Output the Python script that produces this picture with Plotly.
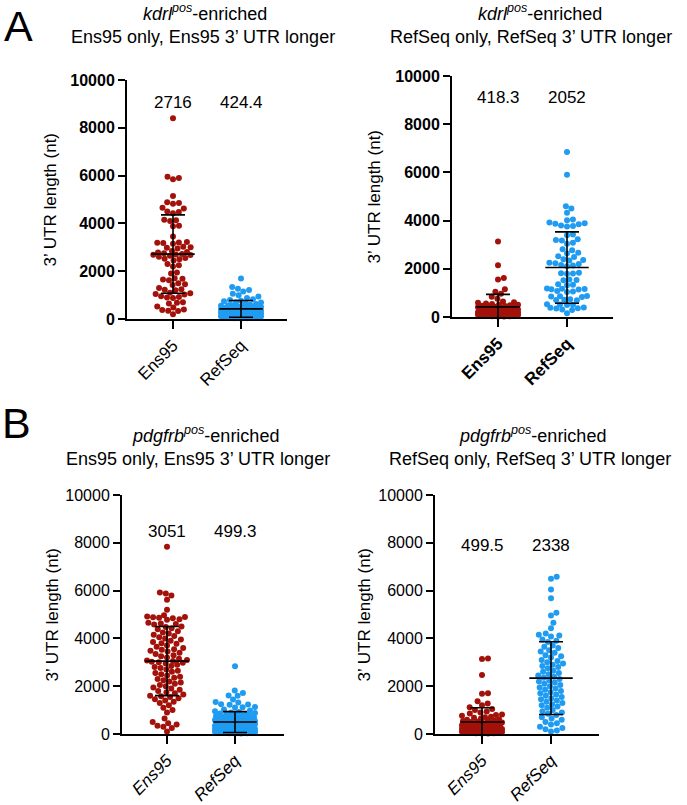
import math
import plotly.graph_objects as go

W, H = 687, 805
RED = "#a3120a"
BLUE = "#1f9cf2"
FONT = "Arial, Liberation Sans, sans-serif"

CATEGORIES = ["Ens95", "RefSeq"]
YTICKS = [0, 2000, 4000, 6000, 8000, 10000]

# ---- values (3' UTR length, nt) ----
# A, left: kdrl+ enriched, Ens95 only / Ens95 longer
ens_a1 = [8400, 5950, 5900, 5850, 5150, 4880, 4850, 4820, 4650, 4620, 4500, 4480,
          4420, 4150, 4130, 4100, 3900, 3880, 3450, 3220, 3200, 3190, 3180, 3150,
          3020, 3000, 2980, 2950, 2850, 2800, 2780, 2750, 2720, 2700, 2690, 2680,
          2650, 2600, 2550, 2520, 2500, 2450, 2300, 2250, 2200, 1950, 1900, 1700,
          1680, 1650, 1620, 1500, 1450, 1420, 1300, 1250, 1220, 1200, 1100, 1080,
          1050, 1020, 950, 920, 900, 880, 700, 680, 650, 520, 480, 400, 380, 350,
          330, 200]
ref_a1 = [1690, 1340, 1270, 1210, 1150, 1060, 990, 940, 880, 830, 800, 760, 740,
          700, 690, 650, 630, 610, 580, 570, 550, 540, 520, 500, 490, 480, 470,
          455, 450, 430, 420, 410, 400, 395, 380, 370, 360, 350, 345, 330, 320,
          310, 300, 295, 280, 270, 265, 250, 240, 235, 220, 210, 205, 190, 180,
          175, 160, 150, 145, 130, 120, 115, 100, 95, 90, 80, 75, 65, 60, 55, 50,
          45, 40, 35, 30, 25]
# A, right: kdrl+ enriched, RefSeq only / RefSeq longer
ens_a2 = [3130, 2150, 1620, 1560, 1150, 1050, 960, 840, 760, 640, 610, 590, 565,
          540, 520, 505, 490, 470, 460, 450, 430, 420, 405, 390, 380, 370, 360,
          350, 340, 330, 320, 310, 300, 290, 280, 270, 260, 250, 240, 230, 220,
          210, 200, 195, 190, 180, 170, 165, 160, 150, 140, 135, 130, 120, 110,
          105, 100, 95, 90, 85, 80, 75, 70, 65, 60, 55, 50, 45, 40, 35, 30, 25, 20]
ref_a2 = [6850, 5900, 4600, 4500, 4330, 4050, 4010, 3920, 3890, 3870, 3850, 3800,
          3780, 3760, 3420, 3390, 3230, 3200, 3170, 3080, 3040, 2810, 2770, 2670,
          2640, 2520, 2490, 2400, 2370, 2340, 2250, 2230, 2200, 2160, 2140, 2110,
          1840, 1820, 1810, 1790, 1560, 1540, 1520, 1360, 1340, 1320, 1180, 1170,
          1160, 1150, 1140, 1080, 1060, 1040, 870, 860, 850, 830, 740, 720, 710,
          700, 530, 520, 510, 500, 390, 380, 360, 350, 310, 290, 160]
# B, left: pdgfrb+ enriched, Ens95 only / Ens95 longer
ens_b1 = [7830, 5920, 5880, 5790, 5620, 5200, 4970, 4920, 4900, 4880, 4860, 4840,
          4800, 4780, 4650, 4620, 4600, 4580, 4500, 4480, 4420, 4380, 4300, 4250,
          4200, 4150, 4100, 4050, 4000, 3950, 3900, 3850, 3800, 3780, 3700, 3650,
          3600, 3550, 3520, 3480, 3450, 3400, 3350, 3300, 3250, 3200, 3150, 3100,
          3080, 3050, 3020, 3000, 2980, 2950, 2900, 2850, 2800, 2760, 2700, 2650,
          2600, 2550, 2500, 2450, 2400, 2350, 2300, 2250, 2200, 2150, 2100, 2050,
          2000, 1950, 1900, 1850, 1800, 1750, 1700, 1650, 1600, 1580, 1550, 1500,
          1450, 1400, 1350, 1300, 1200, 1100, 1000, 900, 650, 500, 450, 400, 350,
          300, 250, 100]
ref_b1 = [2830, 1820, 1720, 1610, 1600, 1440, 1340, 1320, 1240, 1230, 1220, 1130,
          1120, 1110, 1020, 980, 950, 920, 900, 880, 860, 840, 820, 800, 780, 760,
          740, 720, 700, 690, 680, 660, 650, 640, 620, 610, 600, 590, 580, 560,
          550, 540, 530, 520, 510, 500, 490, 480, 470, 460, 450, 440, 430, 420,
          410, 400, 390, 380, 370, 360, 350, 340, 330, 320, 310, 300, 290, 280,
          270, 260, 250, 240, 230, 220, 210, 200, 190, 180, 170, 160, 150, 140,
          130, 120, 110, 100, 95, 90, 85, 80, 75, 70, 65, 60, 55, 50, 45, 40, 35,
          30, 25, 20]
# B, right: pdgfrb+ enriched, RefSeq only / RefSeq longer
ens_b2 = [3160, 3140, 2470, 1700, 1680, 1370, 1280, 1200, 1120, 1050, 1000, 940,
          900, 860, 820, 790, 760, 720, 700, 680, 650, 620, 600, 580, 560, 540,
          520, 500, 480, 460, 450, 430, 420, 400, 390, 370, 360, 350, 330, 320,
          300, 290, 280, 260, 250, 240, 230, 220, 210, 200, 190, 180, 170, 160,
          150, 140, 130, 120, 110, 100, 95, 90, 85, 80, 75, 70, 65, 60, 55, 50,
          45, 40, 35, 30, 25, 20]
ref_b2 = [6580, 6500, 6050, 5680, 5070, 4960, 4650, 4420, 4200, 4150, 4120, 4080,
          3950, 3900, 3850, 3700, 3650, 3600, 3500, 3450, 3400, 3300, 3250, 3200,
          3100, 3050, 3000, 2950, 2900, 2850, 2800, 2750, 2650, 2600, 2550, 2500,
          2450, 2400, 2350, 2300, 2250, 2200, 2150, 2100, 2050, 2000, 1950, 1900,
          1850, 1800, 1750, 1700, 1650, 1600, 1550, 1500, 1450, 1400, 1350, 1300,
          1250, 1200, 1150, 1100, 1000, 950, 900, 850, 800, 700, 650, 600, 500,
          450, 400, 300, 250, 200, 150, 100]

# mean and SD (the error bars) as printed /
means_a1, sds_a1 = [2716, 424.4], [1640, 350]
means_a2, sds_a2 = [418.3, 2052], [520, 1480]
means_b1, sds_b1 = [3051, 499.3], [1445, 435]
means_b2, sds_b2 = [499.5, 2338], [600, 1520]

# ---- layout: pixel geometry of each panel (axis box, category spacing) ----
PANELS = [
    dict(vals=(ens_a1, ref_a1), means=means_a1, sds=sds_a1, gene="kdrl",
         sub="Ens95 only, Ens95 3\u2019 UTR longer",
         box=(127, 287, 80, 319), cat0=173, step=68, tcx=(205, 203), tcy=(13, 37),
         ytx=50, lab_y=9040, tick_bold=True, xlab_bold=False, xlab_italic=False),
    dict(vals=(ens_a2, ref_a2), means=means_a2, sds=sds_a2, gene="kdrl",
         sub="RefSeq only, RefSeq 3\u2019 UTR longer",
         box=(452, 613, 76, 317), cat0=498, step=69, tcx=(540, 531), tcy=(13, 37),
         ytx=374, lab_y=9120, tick_bold=True, xlab_bold=True, xlab_italic=False),
    dict(vals=(ens_b1, ref_b1), means=means_b1, sds=sds_b1, gene="pdgfrb",
         sub="Ens95 only, Ens95 3\u2019 UTR longer",
         box=(122, 284, 495, 734), cat0=167, step=68, tcx=(205, 198), tcy=(434, 459),
         ytx=52, lab_y=8460, tick_bold=False, xlab_bold=False, xlab_italic=True),
    dict(vals=(ens_b2, ref_b2), means=means_b2, sds=sds_b2, gene="pdgfrb",
         sub="RefSeq only, RefSeq 3\u2019 UTR longer",
         box=(435, 599, 495, 734), cat0=482, step=69, tcx=(532, 530), tcy=(434, 459),
         ytx=364, lab_y=7870, tick_bold=False, xlab_bold=False, xlab_italic=True),
]

DOT = 6.0      # marker diameter / min spacing, px
MAXW = 20.0    # max half-width of a swarm, px


def swarm(values, ppu):
    """Beeswarm x offsets (px) for values, ppu = px per data unit on y."""
    order = sorted(range(len(values)), key=lambda i: values[i])
    placed, xs = [], [0.0] * len(values)
    for i in order:
        y = values[i] * ppu
        near = [(px, py) for px, py in placed if abs(py - y) < DOT]
        cands = [0.0]
        for px, py in near:
            dx = math.sqrt(DOT * DOT - (py - y) ** 2)
            cands += [px + dx, px - dx]
        cands = sorted((c for c in cands if abs(c) <= MAXW), key=abs)
        x = None
        for c in cands:
            if all((c - px) ** 2 + (y - py) ** 2 >= DOT * DOT - 1e-6 for px, py in near):
                x = c
                break
        if x is None:  # too crowded: drop into the least crowded spot (overlap)
            best = -1
            for k in range(int(-MAXW), int(MAXW) + 1):
                dmin = min(math.hypot(k - px, y - py) for px, py in near)
                if dmin > best:
                    best, x = dmin, float(k)
        placed.append((x, y))
        xs[i] = x
    return xs


fig = go.Figure()
annotations = []
layout = {}


def px_x(p):
    return p / W


def px_y(p):
    return 1 - p / H


for n, P in enumerate(PANELS, start=1):
    xa, ya = ("x", "y") if n == 1 else (f"x{n}", f"y{n}")
    x0, x1, ytop, ybot = P["box"]
    ppu = (ybot - ytop) / 10000.0
    step = P["step"]
    lo = -(P["cat0"] - x0) / step
    hi = lo + (x1 - x0) / step

    for c, (vals, color) in enumerate(zip(P["vals"], (RED, BLUE))):
        offs = swarm(vals, ppu)
        fig.add_trace(go.Scatter(
            x=[c + o / step for o in offs], y=vals, mode="markers",
            marker=dict(color=color, size=DOT, line=dict(width=0)),
            xaxis=xa, yaxis=ya, cliponaxis=False, showlegend=False,
            hoverinfo="y"))

    # mean line + SD bars
    fig.add_trace(go.Scatter(
        x=[0, 1], y=P["means"], mode="markers",
        marker=dict(symbol="line-ew", size=31, color="black",
                    line=dict(width=1.6, color="black")),
        error_y=dict(type="data", array=P["sds"], visible=True,
                     color="black", thickness=1.6, width=12),
        xaxis=xa, yaxis=ya, cliponaxis=False, showlegend=False, hoverinfo="y"))

    tick_font = dict(family=FONT, size=16, color="black",
                     weight="bold" if P["tick_bold"] else "normal")
    xlab_font = dict(family=FONT, size=17, color="black",
                     weight="bold" if P["xlab_bold"] else "normal",
                     style="italic" if P["xlab_italic"] else "normal")
    axis_common = dict(showline=True, linewidth=2, linecolor="black",
                       ticks="outside", tickwidth=2, tickcolor="black",
                       showgrid=False, zeroline=False, fixedrange=True,
                       automargin=False)
    layout["xaxis" if n == 1 else f"xaxis{n}"] = dict(
        domain=[px_x(x0), px_x(x1)], range=[lo, hi], anchor=ya,
        tickvals=[0, 1], ticktext=CATEGORIES, tickangle=-45, ticklen=8,
        tickfont=xlab_font, **axis_common)
    layout["yaxis" if n == 1 else f"yaxis{n}"] = dict(
        domain=[px_y(ybot), px_y(ytop)], range=[0, 10000], anchor=xa,
        tickvals=YTICKS, ticktext=[str(t) for t in YTICKS], ticklen=7,
        tickfont=tick_font, **axis_common)

    # mean values printed above each column
    for c, m in enumerate(P["means"]):
        annotations.append(dict(
            x=c, y=P["lab_y"], xref=xa, yref=ya, text=f"{m:g}", showarrow=False,
            font=dict(family=FONT, size=17, color="black")))

    # two-line panel title
    annotations.append(dict(
        x=px_x(P["tcx"][0]), y=px_y(P["tcy"][0]), xref="paper", yref="paper",
        text=f"<i>{P['gene']}<sup>pos</sup></i>-enriched", showarrow=False,
        xanchor="center", yanchor="middle",
        font=dict(family=FONT, size=18, color="black")))
    annotations.append(dict(
        x=px_x(P["tcx"][1]), y=px_y(P["tcy"][1]), xref="paper", yref="paper",
        text=P["sub"], showarrow=False, xanchor="center", yanchor="middle",
        font=dict(family=FONT, size=18, color="black")))

    # y-axis title
    annotations.append(dict(
        x=px_x(P["ytx"]), y=px_y((ytop + ybot) / 2), xref="paper", yref="paper",
        text="3\u2019 UTR length (nt)", textangle=-90, showarrow=False,
        xanchor="center", yanchor="middle",
        font=dict(family=FONT, size=17, color="black")))

# panel letters (top-anchored so the box stays inside the page)
for letter, (lx, ly) in zip(["A", "B"], [(18, 0), (16, 397)]):
    annotations.append(dict(
        x=px_x(lx), y=px_y(ly), xref="paper", yref="paper", text=letter,
        showarrow=False, xanchor="center", yanchor="top",
        font=dict(family=FONT, size=43, color="black")))

fig.update_layout(
    width=W, height=H, margin=dict(l=0, r=0, t=0, b=0, autoexpand=False),
    paper_bgcolor="white", plot_bgcolor="white",
    font=dict(family=FONT, color="black"),
    annotations=annotations, showlegend=False, **layout)

# drop the page's default body margin so the figure sits at (0, 0)
fig.write_html("out.html", config={"displayModeBar": False},
               post_script="document.body.style.margin='0';"
                           "document.body.style.overflow='hidden';")
